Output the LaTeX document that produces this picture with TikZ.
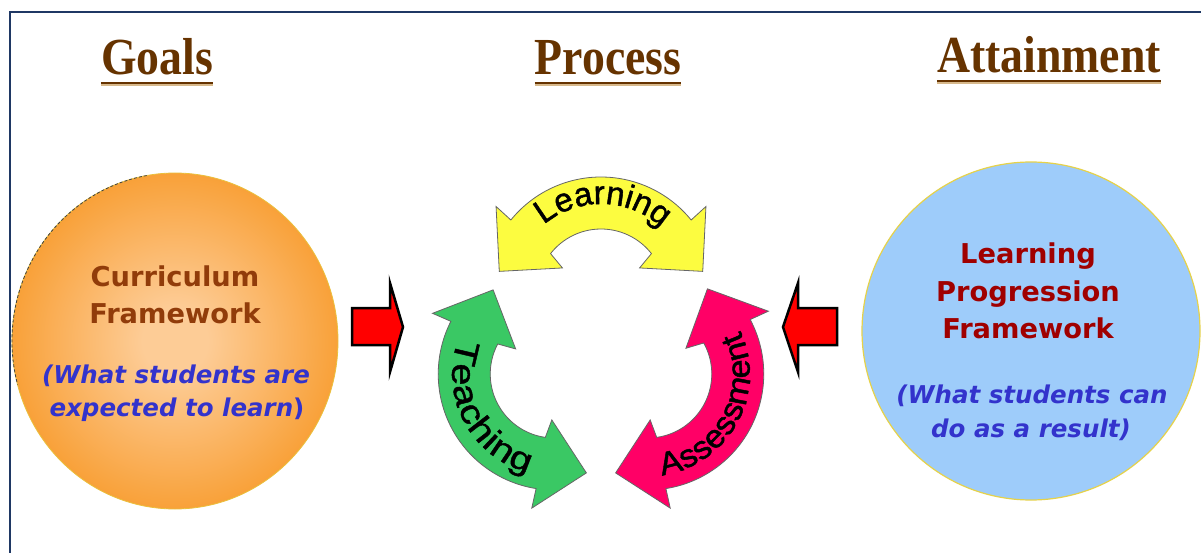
\documentclass[tikz,border=0pt]{standalone}
\usepackage{fontspec}
\usetikzlibrary{decorations.text}
\newfontfamily\titlefont[FakeStretch=0.88]{Liberation Serif}
\newfontfamily\bodyfont{DejaVu Sans}
\newfontfamily\arcL[FakeStretch=1.0, FakeBold=1.4]{Liberation Sans}
\newfontfamily\arcT[FakeStretch=1.2, FakeBold=1.4]{Liberation Sans}
\newfontfamily\arcS[FakeStretch=1.07, FakeBold=1.4]{Liberation Sans}
\definecolor{framec}{RGB}{31,56,100}
\definecolor{titlec}{RGB}{102,51,0}
\definecolor{titleshadow}{RGB}{215,185,140}
\definecolor{cfc}{RGB}{145,60,10}
\definecolor{lpc}{RGB}{160,0,0}
\definecolor{bluec}{RGB}{51,51,204}
\definecolor{peach}{RGB}{253,204,150}
\definecolor{orangec}{RGB}{247,148,29}
\definecolor{skyc}{RGB}{158,204,250}
\definecolor{rimc}{RGB}{230,210,74}
\definecolor{yelc}{RGB}{252,252,64}
\definecolor{grnc}{RGB}{58,200,100}
\definecolor{pnkc}{RGB}{255,0,102}
\pgfdeclareradialshading{glow}{\pgfpoint{0bp}{0bp}}{color(0bp)=(peach); color(5bp)=(peach); color(31bp)=(orangec); color(50bp)=(orangec)}
% circular double-headed arrow, centred at the origin; #2, #3 lengthen the right / left ends (degrees)
\newcommand{\procarrow}[3]{%
  \path[#1] ({39-#2}:116) -- ({39.5-#2}:136) -- ({12-#2}:104) -- ({33-#2}:46) -- ({38-#2}:64)
     arc[start angle={38-#2}, end angle={142+#3}, radius=64]
     -- ({147+#3}:46) -- ({168+#3}:104) -- ({140.5+#3}:136) -- ({141+#3}:116)
     arc[start angle={141+#3}, end angle={39-#2}, radius=116] -- cycle;}
\tikzset{
  ttl/.style={font=\titlefont\bfseries\fontsize{52}{52}\selectfont, text=titlec, inner sep=0, anchor=base},
  uline/.style={titlec, line width=2.8},
  ushadow/.style={titleshadow, line width=1.5},
  hd/.style={font=\bodyfont\bfseries\fontsize{27.3}{30}\selectfont, inner sep=0, anchor=base},
  itx/.style={font=\bodyfont\bfseries\itshape\fontsize{24.5}{28}\selectfont, text=bluec, inner sep=0, anchor=base},
  redarrow/.style={fill=red, draw=black, line width=2.5, line join=miter},
  procline/.style={draw=black!60, line width=0.8},
  arctext/.style={decorate, decoration={text along path, text align=fit to path, text={#1}}}
}
\begin{document}
\begin{tikzpicture}[x=1pt, y=1pt]
\useasboundingbox (0,0) rectangle (1201,-553);
\clip (0,0) rectangle (1201,-553);
\fill[white] (0,0) rectangle (1201,-553);
% frame
\draw[framec, line width=2] (10,-600) -- (10,-12) -- (1250,-12);
% titles
\node[ttl] (goals) at (157,-75) {Goals};
\node[ttl] (process) at (608,-75) {Process};
\node[ttl] (attain) at (1049,-73) {Attainment};
\foreach \t/\d in {goals/8, process/8, attain/8}{
  \draw[ushadow] ([yshift=-\d-2]\t.base west) -- ([yshift=-\d-2]\t.base east);
  \draw[uline] ([yshift=-\d]\t.base west) -- ([yshift=-\d]\t.base east);
}
% left circle
\path[shading=glow] (175,-341) ellipse [x radius=163, y radius=168];
\draw[rimc!70!orangec, line width=0.8] (175,-341) ellipse [x radius=163, y radius=168];
\draw[black!75, densely dashed, line width=0.8] (175,-341) ++(100:163 and 168) arc[start angle=100, end angle=195, x radius=163, y radius=168];
\node[hd, text=cfc] (cf1) at (175,-287) {Curriculum};
\node[hd, text=cfc] (cf2) at (175,-323) {Framework};
\node[itx] (cf3) at (176,-383) {(What students are};
\node[itx] (cf4) at (177,-416) {expected to learn{\upshape)}};
% right circle
\draw[fill=skyc, draw=rimc, line width=1.2] (1031,-331) circle [radius=169];
\node[hd, text=lpc] (lp1) at (1028,-264) {Learning};
\node[hd, text=lpc] (lp2) at (1028,-301) {Progression};
\node[hd, text=lpc] (lp3) at (1028,-338) {Framework};
\node[itx] (lp4) at (1032,-403) {(What students can};
\node[itx] (lp5) at (1031,-437) {do as a result)};
% red arrows
\path[redarrow] (352,-308) -- (390,-308) -- (390,-283) -- (403,-327) -- (390,-372) -- (390,-345) -- (352,-345) -- cycle;
\path[redarrow] (837,-308) -- (798,-308) -- (798,-283) -- (783,-327) -- (798,-372) -- (798,-345) -- (837,-345) -- cycle;
% process cycle
\begin{scope}[shift={(601,-347)}]
  \begin{scope}[shift={(90:54)}]\procarrow{fill=yelc, procline}{0}{0}\end{scope}
  \begin{scope}[rotate=120, shift={(90:54)}]\procarrow{fill=grnc, procline}{6}{0}\end{scope}
  \begin{scope}[rotate=-120, shift={(90:54)}]\procarrow{fill=pnkc, procline}{0}{7}\end{scope}
\end{scope}
\begin{scope}[shift={(601,-293)}]
  \path[arctext={|\arcL\fontsize{33}{33}\selectfont|Learning}] (130:89) arc[start angle=130, end angle=47.5, radius=89];
\end{scope}
\begin{scope}[shift={(554.2,-374)}]
  \path[arctext={|\arcT\fontsize{33}{33}\selectfont|Teaching}] (160:102) arc[start angle=160, end angle=255, radius=102];
\end{scope}
\begin{scope}[shift={(647.8,-374)}]
  \path[arctext={|\arcS\fontsize{32}{32}\selectfont|Assessment}] (-82:102) arc[start angle=-82, end angle=25, radius=102];
\end{scope}
\end{tikzpicture}
\end{document}
